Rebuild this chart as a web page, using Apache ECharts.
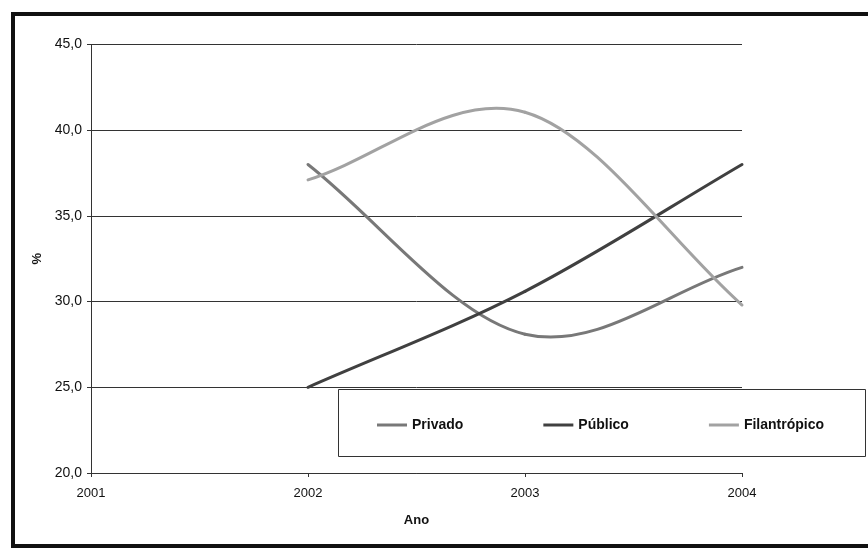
<!DOCTYPE html>
<html>
<head>
<meta charset="utf-8">
<script src="https://cdn.jsdelivr.net/npm/echarts@6/dist/echarts.min.js"></script>
<style>
  html, body { margin: 0; padding: 0; background: #fff; }
  #chart { width: 868px; height: 548px; }
</style>
</head>
<body>
<div id="chart"></div>
<script>
// Share (%) by sector, per year
const years = [2002, 2003, 2004];
const privado = [38.0, 28.1, 32.0];
const publico = [25.0, 30.6, 38.0];
const filantropico = [37.1, 41.05, 29.8];
const seriesNames = ['Privado', 'Público', 'Filantrópico'];
const seriesColors = ['#787878', '#404040', '#a2a2a2'];

const xMin = 2001, xMax = 2004;
const yMin = 20, yMax = 45, yStep = 5;

const FONT = '"Liberation Sans", Arial, sans-serif';

function pairs(values) {
  return years.map((y, i) => [y, values[i]]);
}

// Smoothed line: cubic Bezier per segment, tangents from neighbouring
// points (chord slope at both ends), computed in pixel space.
function smoothSeries(name, values, color) {
  const data = pairs(values);
  return {
    name: name,
    type: 'custom',
    data: data,
    encode: { x: 0, y: 1 },
    itemStyle: { color: color },
    renderItem: function (params, api) {
      const i = params.dataIndex;
      const n = data.length;
      if (i >= n - 1) return { type: 'group', children: [] };
      const P = data.map(d => api.coord(d));
      const tangent = k => {
        if (k === 0) return [P[1][0] - P[0][0], P[1][1] - P[0][1]];
        if (k === n - 1) return [P[n - 1][0] - P[n - 2][0], P[n - 1][1] - P[n - 2][1]];
        return [(P[k + 1][0] - P[k - 1][0]) / 2, (P[k + 1][1] - P[k - 1][1]) / 2];
      };
      const t0 = tangent(i), t1 = tangent(i + 1);
      return {
        type: 'bezierCurve',
        shape: {
          x1: P[i][0], y1: P[i][1],
          x2: P[i + 1][0], y2: P[i + 1][1],
          cpx1: P[i][0] + t0[0] / 3, cpy1: P[i][1] + t0[1] / 3,
          cpx2: P[i + 1][0] - t1[0] / 3, cpy2: P[i + 1][1] - t1[1] / 3
        },
        style: { fill: null, stroke: color, lineWidth: 3, lineCap: 'round' }
      };
    }
  };
}

const chart = echarts.init(document.getElementById('chart'), null, { renderer: 'canvas' });

chart.setOption({
  animation: false,
  backgroundColor: '#ffffff',
  grid: { left: 91, right: 126, top: 44.5, bottom: 75 },
  xAxis: {
    type: 'value',
    min: xMin,
    max: xMax,
    interval: 1,
    name: 'Ano',
    nameLocation: 'middle',
    nameGap: 41,
    nameTextStyle: { fontFamily: FONT, fontSize: 13, fontWeight: 'bold', color: '#111' },
    axisLine: { show: true, lineStyle: { color: '#333', width: 1 } },
    axisTick: { show: true, inside: false, length: 4, lineStyle: { color: '#333' } },
    axisLabel: {
      fontFamily: FONT, fontSize: 13, color: '#111', margin: 14,
      formatter: v => String(v)
    },
    splitLine: { show: false }
  },
  yAxis: {
    type: 'value',
    min: yMin,
    max: yMax,
    interval: yStep,
    name: '%',
    nameLocation: 'middle',
    nameGap: 46,
    nameRotate: 90,
    nameTextStyle: { fontFamily: FONT, fontSize: 13, fontWeight: 'bold', color: '#111' },
    axisLine: { show: true, lineStyle: { color: '#333', width: 1 } },
    axisTick: { show: true, inside: false, length: 4, lineStyle: { color: '#333' } },
    axisLabel: {
      fontFamily: FONT, fontSize: 14, color: '#111', margin: 9,
      formatter: v => v.toFixed(1).replace('.', ',')
    },
    splitLine: { show: true, lineStyle: { color: '#333', width: 1 } }
  },
  legend: {
    data: seriesNames,
    icon: 'rect',
    left: 372,
    top: 413,
    itemWidth: 30,
    itemHeight: 3,
    itemGap: 80,
    textStyle: { fontFamily: FONT, fontSize: 14, fontWeight: 'bold', color: '#111' }
  },
  graphic: [
    {
      type: 'rect',
      silent: true,
      z: 100,
      shape: { x: 338.5, y: 389.5, width: 527, height: 67 },
      style: { fill: null, stroke: '#333', lineWidth: 1 }
    },
    {
      type: 'rect',
      silent: true,
      z: 100,
      shape: { x: 13, y: 14, width: 880, height: 532 },
      style: { fill: null, stroke: '#111', lineWidth: 4 }
    }
  ],
  series: [
    smoothSeries(seriesNames[0], privado, seriesColors[0]),
    smoothSeries(seriesNames[1], publico, seriesColors[1]),
    smoothSeries(seriesNames[2], filantropico, seriesColors[2])
  ]
});
</script>
</body>
</html>
